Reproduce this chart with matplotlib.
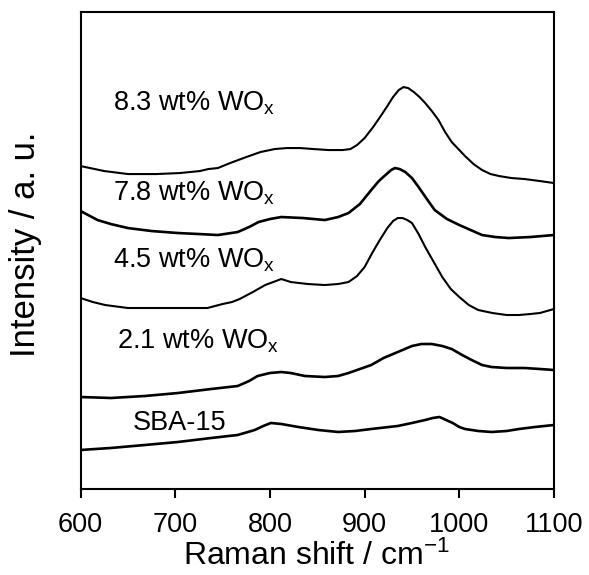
import matplotlib
matplotlib.use("Agg")
import matplotlib.pyplot as plt

plt.rcParams["font.family"] = ["Liberation Sans", "DejaVu Sans"]
plt.rcParams["mathtext.fontset"] = "custom"
plt.rcParams["mathtext.rm"] = "Liberation Sans"
plt.rcParams["mathtext.it"] = "Liberation Sans"


# =========================================================
# Spectra (already offset, a. u.)
# =========================================================

shift_83 = [600, 625, 650, 680, 705, 726, 735, 745, 758, 775, 790, 805,
            818, 832, 846, 862, 877, 885, 892, 900, 909, 917, 924, 930,
            936, 941, 946, 952, 958, 964, 971, 978, 985, 992, 1000, 1006,
            1015, 1024, 1033, 1042, 1055, 1069, 1085, 1100]
int_83 = [323, 318, 315, 315, 316, 318, 320, 321, 326, 332, 337, 340,
          341, 341, 340, 339, 339, 340, 344, 351, 362, 373, 383, 392,
          399, 402, 401, 397, 392, 386, 378, 369, 357, 347, 339, 333,
          325, 319, 315, 313, 311, 310, 308, 306]

shift_78 = [600, 608, 618, 632, 650, 675, 703, 725, 745, 766, 778, 788,
            800, 812, 835, 858, 872, 883, 895, 907, 915, 922, 928, 932,
            937, 943, 950, 957, 965, 974, 987, 1000, 1012, 1024, 1038,
            1052, 1075, 1100]
int_78 = [278, 274, 269, 265, 261, 258, 256, 255, 254, 257, 262, 267,
          270, 272, 271, 269, 272, 276, 285, 299, 308, 314, 319, 321,
          320, 317, 311, 302, 291, 279, 270, 264, 259, 254, 252,
          251, 252, 254]

shift_45 = [600, 613, 626, 650, 675, 703, 734, 750, 760, 768, 782, 795,
            812, 822, 840, 858, 872, 883, 892, 900, 908, 916, 924, 930,
            935, 940, 945, 950, 957, 964, 973, 982, 991, 1000, 1010,
            1020, 1035, 1050, 1063, 1075, 1085, 1100]
int_45 = [191, 187, 184, 181, 181, 181, 181, 185, 187, 190, 197, 204,
          210, 207, 205, 204, 205, 207, 213, 222, 236, 249, 261, 268,
          271, 271, 269, 266, 255, 242, 227, 212, 200, 192, 184,
          179, 176, 174, 174, 175, 176, 180]

shift_21 = [600, 632, 668, 703, 738, 766, 778, 787, 800, 812, 822, 837,
            858, 872, 883, 895, 907, 920, 935, 950, 960, 971, 982, 992,
            1003, 1013, 1024, 1034, 1050, 1069, 1085, 1100]
int_21 = [92, 91, 93, 96, 100, 103, 108, 113, 116, 117, 116, 113,
          112, 113, 116, 120, 124, 131, 137, 143, 145, 145, 143, 140,
          134, 129, 124, 122, 121, 121, 120, 119]

shift_sba = [600, 632, 668, 703, 738, 766, 784, 793, 801, 812, 830, 851,
             872, 890, 907, 935, 950, 964, 972, 979, 986, 993, 1000,
             1006, 1020, 1034, 1050, 1063, 1080, 1100]
int_sba = [39, 41, 44, 47, 51, 54, 59, 63, 66, 65, 62, 59,
           57, 58, 60, 63, 66, 69, 71, 72, 69, 66, 62,
           60, 58, 57, 58, 60, 62, 64]

labels = ["8.3 wt% WO$_{\\rm x}$", "7.8 wt% WO$_{\\rm x}$",
          "4.5 wt% WO$_{\\rm x}$", "2.1 wt% WO$_{\\rm x}$", "SBA-15"]
label_x = [634, 634, 634, 638, 655]
label_y = [379, 289, 222, 141, 59]

xticks = [600, 700, 800, 900, 1000, 1100]


# =========================================================
# Plot
# =========================================================

fig = plt.figure(figsize=(5.89, 5.75), dpi=100)
ax = fig.add_axes([0.1367, 0.1496, 0.8039, 0.8294])

spectra = [
    (shift_83, int_83, 1.5),
    (shift_78, int_78, 1.9),
    (shift_45, int_45, 1.5),
    (shift_21, int_21, 1.9),
    (shift_sba, int_sba, 1.9),
]

for xs, ys, lw in spectra:
    ax.plot(xs, ys, color="black", lw=lw, solid_joinstyle="round")

for txt, tx, ty in zip(labels, label_x, label_y):
    ax.text(tx, ty, txt, fontsize=19.5, va="baseline", ha="left")

ax.set_xlim(600, 1100)
ax.set_ylim(0, 477)
ax.set_xticks(xticks)
ax.set_yticks([])
ax.tick_params(axis="x", direction="out", length=6.5, width=1.5,
               labelsize=19.5, pad=10)
for sp in ax.spines.values():
    sp.set_linewidth(1.5)

fig.text(0.538, 0.032, "Raman shift / cm$^{-1}$", fontsize=23,
         ha="center", va="center")
fig.text(0.043, 1 - 244 / 575, "Intensity / a. u.", fontsize=25,
         rotation=90, ha="center", va="center")

fig.savefig("out.png", dpi=100)
